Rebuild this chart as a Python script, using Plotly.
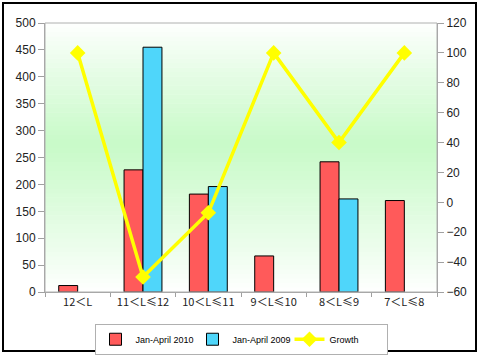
import plotly.graph_objects as go

categories = ["12＜L", "11＜L≤12", "10＜L≤11", "9＜L≤10", "8＜L≤9", "7＜L≤8"]
sales_2010 = [12, 227, 182, 67, 242, 170]
sales_2009 = [None, 455, 196, None, 173, None]
growth = [100, -50, -7, 100, 40, 100]

W, H = 480, 355
L, R, T, B = 45, 43, 23, 63
pw, ph = W - L - R, H - T - B

fig = go.Figure()
fig.add_trace(go.Bar(x=categories, y=sales_2010, name="Jan-April 2010",
                     marker=dict(color="#ff5a5a", line=dict(color="#000000", width=1))))
fig.add_trace(go.Bar(x=categories, y=sales_2009, name="Jan-April 2009",
                     marker=dict(color="#4fd6fa", line=dict(color="#000000", width=1))))
fig.add_trace(go.Scatter(x=categories, y=growth, name="Growth", yaxis="y2",
                         mode="lines+markers",
                         line=dict(color="#ffff00", width=3.5),
                         marker=dict(symbol="diamond", size=12, color="#ffff00")))

# background gradient: white -> light green -> white
def lerp(c1, c2, t):
    return tuple(round(a + (b - a) * t) for a, b in zip(c1, c2))

white = (255, 255, 255)
green = (200, 250, 200)
n = 60
shapes = []
for i in range(n):
    y0 = i / n
    y1 = (i + 1) / n
    yc = (y0 + y1) / 2  # 0 bottom, 1 top
    peak = 0.55
    if yc >= peak:
        t = (1 - yc) / (1 - peak)
    else:
        t = yc / peak
    t = max(0.0, min(1.0, t)) ** 0.9
    c = lerp(white, green, t)
    shapes.append(dict(type="rect", xref="paper", yref="paper", x0=0, x1=1,
                       y0=y0, y1=y1 + 0.002, line=dict(width=0),
                       fillcolor="rgb(%d,%d,%d)" % c, layer="below"))
# plot area border
shapes.append(dict(type="rect", xref="paper", yref="paper", x0=0, x1=1, y0=0, y1=1,
                   line=dict(color="#b0b0b0", width=1), layer="above"))
# outer frame
fx0, fx1, fy0, fy1 = 3, 476, 3, 351
shapes.append(dict(type="rect", xref="paper", yref="paper",
                   x0=(fx0 - L) / pw, x1=(fx1 - L) / pw,
                   y0=(H - B - fy1) / ph, y1=(H - B - fy0) / ph,
                   line=dict(color="#000000", width=2), layer="above"))

tickfont = dict(family="Liberation Sans, Arial, sans-serif", size=12, color="#222222")
fig.update_layout(
    width=W, height=H,
    margin=dict(l=L, r=R, t=T, b=B, autoexpand=False),
    paper_bgcolor="#ffffff", plot_bgcolor="#ffffff",
    barmode="group", bargap=0.42, bargroupgap=0,
    shapes=shapes,
    showlegend=True,
    hovermode=False,
    legend=dict(orientation="h", x=0.5, xanchor="center", y=-0.118, yanchor="top",
                bordercolor="#b0b0b0", borderwidth=1, bgcolor="#ffffff",
                font=dict(family="Liberation Sans, Arial, sans-serif", size=9, color="#000000"),
                itemwidth=30, entrywidth=52, tracegroupgap=0),
    xaxis=dict(type="category", showgrid=False, showline=True, linecolor="#a0a0a0",
               ticks="outside", tickson="boundaries", ticklen=4, tickcolor="#a0a0a0",
               tickfont=dict(family="Noto Sans CJK SC, sans-serif", size=11, color="#222222")),
    yaxis=dict(range=[0, 500], dtick=50, showgrid=False, showline=True, linecolor="#a0a0a0",
               ticks="outside", ticklen=6, tickcolor="#a0a0a0", tickfont=tickfont, zeroline=False),
    yaxis2=dict(range=[-60, 120], dtick=20, overlaying="y", side="right", showgrid=False,
                showline=True, linecolor="#a0a0a0", ticks="outside", ticklen=6,
                tickcolor="#a0a0a0", tickfont=tickfont, zeroline=False),
)

fig.write_html("out.html", config={"displayModeBar": False, "staticPlot": True},
               post_script="document.body.style.margin='0';")
